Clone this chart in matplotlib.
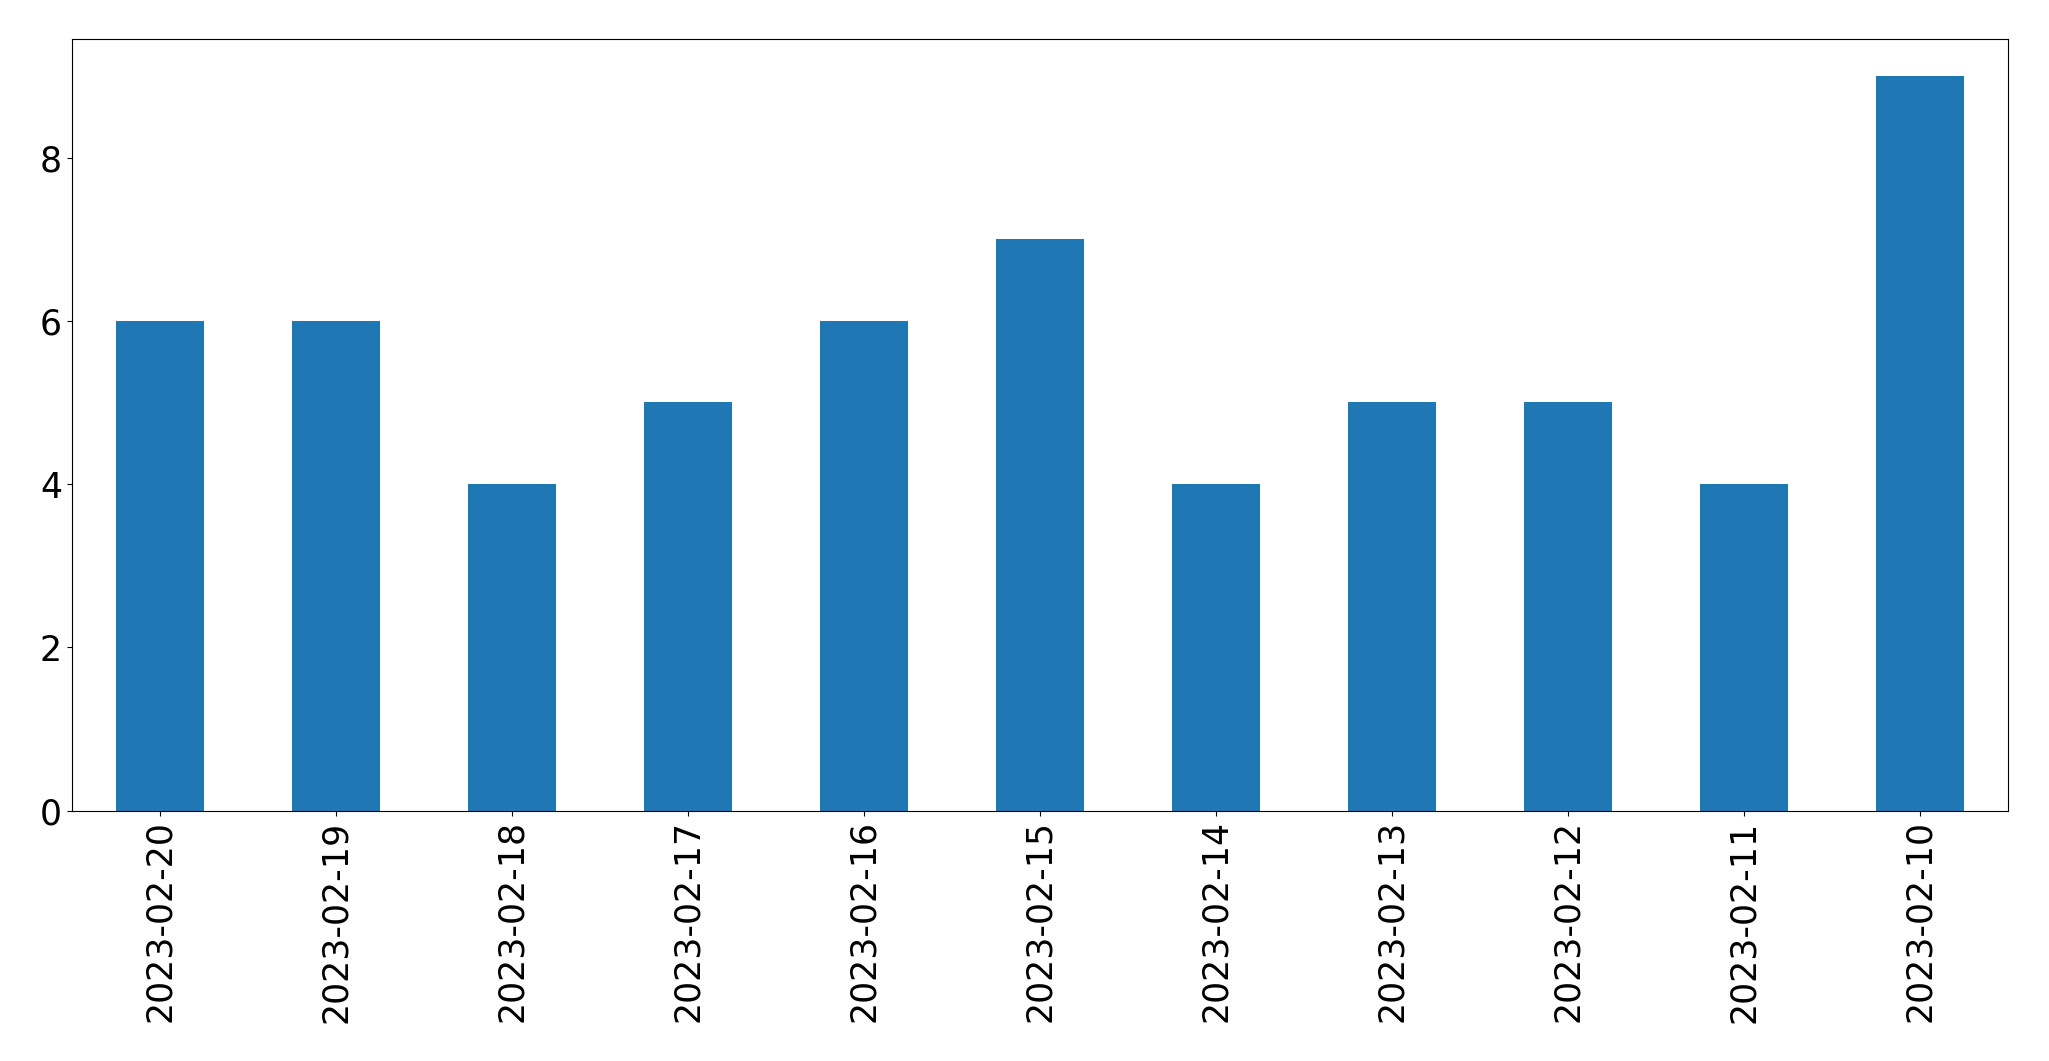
import matplotlib
matplotlib.use("Agg")
import matplotlib.pyplot as plt
import pandas as pd

dates = ['2023-02-20', '2023-02-19', '2023-02-18', '2023-02-17', '2023-02-16', '2023-02-15',
         '2023-02-14', '2023-02-13', '2023-02-12', '2023-02-11', '2023-02-10']
counts = [6, 6, 4, 5, 6, 7, 4, 5, 5, 4, 9]

s = pd.Series(counts, index=dates)

fig = plt.figure(figsize=(20.49, 10.61), dpi=100)
ax = fig.add_axes([0.035, 0.236, 0.945, 0.727])
s.plot(kind='bar', ax=ax, color='#1f77b4', fontsize=25)
ax.tick_params(axis='x', labelrotation=90)
fig.savefig('out.png', dpi=100)
